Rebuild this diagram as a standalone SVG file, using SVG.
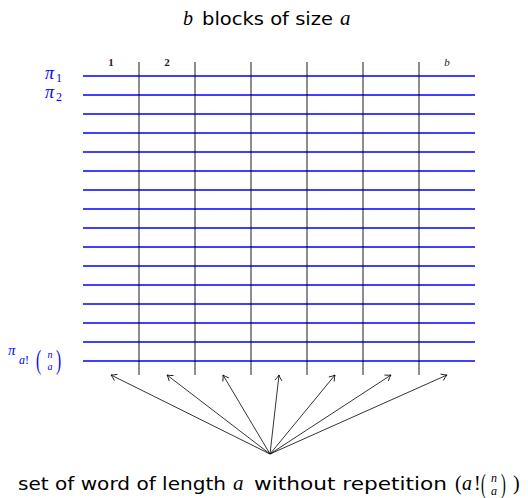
<svg xmlns="http://www.w3.org/2000/svg" width="528" height="498" viewBox="0 0 528 498">
<style>
.sans{font-family:"DejaVu Sans","Liberation Sans",sans-serif;fill:#000}
.math{font-family:"Liberation Serif","DejaVu Serif",serif;font-style:italic}
.rm{font-family:"Liberation Serif","DejaVu Serif",serif}
.row{stroke:#0000ff;stroke-width:1.6;fill:none}
.col{stroke:#000;stroke-width:0.9;fill:none}
.arr{stroke:#000;stroke-width:0.8;fill:none;marker-end:url(#ah)}
.blue{fill:#0000ff;font-family:"Liberation Serif","DejaVu Serif",serif}
</style>
<defs>
<marker id="ah" viewBox="-7 -5 9 10" refX="0" refY="0" markerWidth="9" markerHeight="10" markerUnits="userSpaceOnUse" orient="auto">
<path d="M-5.5,-3.5 Q-2,-0.8 0,0 Q-2,0.8 -5.5,3.5" fill="none" stroke="#000" stroke-width="0.8"/>
</marker>
</defs>
<rect width="528" height="498" fill="#fff"/>
<g id="title">
<text class="math" x="183" y="25" font-size="20">b</text>
<text class="sans" x="202" y="25" font-size="17" textLength="131" lengthAdjust="spacingAndGlyphs">blocks of size</text>
<text class="math" x="340" y="25" font-size="21">a</text>
</g>
<g id="grid">
<g id="rows">
<line class="row" x1="83" x2="475" y1="76" y2="76"/>
<line class="row" x1="83" x2="475" y1="95" y2="95"/>
<line class="row" x1="83" x2="475" y1="114" y2="114"/>
<line class="row" x1="83" x2="475" y1="133" y2="133"/>
<line class="row" x1="83" x2="475" y1="152" y2="152"/>
<line class="row" x1="83" x2="475" y1="171" y2="171"/>
<line class="row" x1="83" x2="475" y1="190" y2="190"/>
<line class="row" x1="83" x2="475" y1="209" y2="209"/>
<line class="row" x1="83" x2="475" y1="228" y2="228"/>
<line class="row" x1="83" x2="475" y1="247" y2="247"/>
<line class="row" x1="83" x2="475" y1="266" y2="266"/>
<line class="row" x1="83" x2="475" y1="285" y2="285"/>
<line class="row" x1="83" x2="475" y1="304" y2="304"/>
<line class="row" x1="83" x2="475" y1="323" y2="323"/>
<line class="row" x1="83" x2="475" y1="342" y2="342"/>
<line class="row" x1="83" x2="475" y1="361" y2="361"/>
</g>
<g id="cols">
<line class="col" x1="139" x2="139" y1="62" y2="375"/>
<line class="col" x1="195" x2="195" y1="62" y2="375"/>
<line class="col" x1="251" x2="251" y1="62" y2="375"/>
<line class="col" x1="307" x2="307" y1="62" y2="375"/>
<line class="col" x1="363" x2="363" y1="62" y2="375"/>
<line class="col" x1="419" x2="419" y1="62" y2="375"/>
</g>
</g>
<g id="block-labels" font-size="11" fill="#222">
<text class="rm" x="111" y="66" text-anchor="middle" font-weight="bold">1</text>
<text class="rm" x="167" y="66" text-anchor="middle" font-weight="bold">2</text>
<text class="math" x="447" y="66" text-anchor="middle">b</text>
</g>
<g id="pi-labels">
<g id="pi-1">
<text class="blue" x="45" y="79" font-size="18" font-style="italic">π</text>
<text class="blue" x="56" y="82" font-size="12">1</text>
</g>
<g id="pi-2">
<text class="blue" x="45" y="98" font-size="18" font-style="italic">π</text>
<text class="blue" x="56" y="101" font-size="12">2</text>
</g>
<g id="pi-last">
<text class="blue" x="8" y="355" font-size="15" font-style="italic">π</text>
<text class="blue" x="19" y="364" font-size="12"><tspan font-style="italic">a</tspan>!</text>
<text class="blue" x="36" y="369" font-size="22" transform="translate(36 369) scale(0.7 1.25) translate(-36 -369)">(</text>
<text class="blue" x="50" y="358" font-size="10" text-anchor="middle" font-style="italic">n</text>
<text class="blue" x="50" y="370" font-size="10" text-anchor="middle" font-style="italic">a</text>
<text class="blue" x="56" y="369" font-size="22" transform="translate(56 369) scale(0.7 1.25) translate(-56 -369)">)</text>
</g>
</g>
<g id="connectors">
<line class="arr" x1="270" y1="454" x2="111" y2="375"/>
<line class="arr" x1="270" y1="454" x2="167" y2="375"/>
<line class="arr" x1="270" y1="454" x2="223" y2="375"/>
<line class="arr" x1="270" y1="454" x2="279" y2="375"/>
<line class="arr" x1="270" y1="454" x2="335" y2="375"/>
<line class="arr" x1="270" y1="454" x2="391" y2="375"/>
<line class="arr" x1="270" y1="454" x2="447" y2="375"/>
</g>
<g id="bottom-label">
<text class="sans" x="18" y="490" font-size="17" textLength="208" lengthAdjust="spacingAndGlyphs">set of word of length</text>
<text class="math" x="233" y="490" font-size="21">a</text>
<text class="sans" x="254" y="490" font-size="17" textLength="193" lengthAdjust="spacingAndGlyphs">without repetition</text>
<text class="rm" x="455" y="490" font-size="20">(</text>
<text class="math" x="462" y="490" font-size="20">a</text>
<text class="rm" x="474" y="490" font-size="20">!</text>
<text class="rm" x="481" y="493" font-size="24" transform="translate(481 493) scale(0.6 1.15) translate(-481 -493)">(</text>
<text class="math" x="494" y="482" font-size="12" text-anchor="middle">n</text>
<text class="math" x="494" y="495" font-size="12" text-anchor="middle">a</text>
<text class="rm" x="501" y="493" font-size="24" transform="translate(501 493) scale(0.6 1.15) translate(-501 -493)">)</text>
<text class="rm" x="513" y="490" font-size="20">)</text>
</g>
</svg>
